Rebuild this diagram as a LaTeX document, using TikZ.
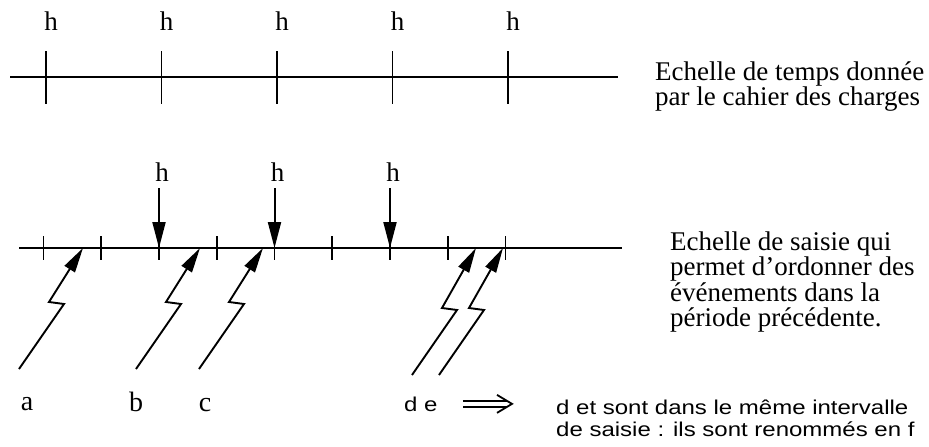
\documentclass[tikz,border=0pt]{standalone}
\usepackage{fontspec}
\setmainfont{Liberation Serif}
\setsansfont{Liberation Sans}
\newfontfamily\notefont[FakeStretch=1.2]{Liberation Sans}
\usetikzlibrary{arrows.meta}

\begin{document}
\begin{tikzpicture}[
		x=1pt, y=-1pt,
		echelle/.style={line width=2.4pt},
		graduation/.style={line width=1.9pt},
		harr/.style={line width=2pt, -{Triangle[length=26pt, width=13pt]}},
		evt/.style={line width=1.9pt, line join=miter, -{Triangle[length=25pt, width=12pt]}},
		lbl/.style={inner sep=0pt, anchor=base, font=\fontsize{27}{27}\selectfont},
		desc/.style={inner sep=0pt, anchor=base west, font=\fontsize{27}{25}\selectfont},
		remarque/.style={inner sep=0pt, anchor=base west, font=\notefont\fontsize{20}{23}\selectfont},
		implies/.style={line width=1.8pt}
	]
	\useasboundingbox (0,0) rectangle (929,447);

	% echelle du cahier des charges
	\draw[echelle] (10,77) -- (618,77);
	\foreach \k in {0,...,4} {
		\coordinate (tt\k) at (46+115.5*\k,77);
		\draw[graduation] (tt\k) ++(0,-26) -- ++(0,53);
		\node[lbl] (ht\k) at (51+115.5*\k,30) {h};
	}
	\foreach \t [count=\i] in {Echelle de temps donnée, par le cahier des charges}
		\node[desc] (cahier\i) at (655,80+25*\i-25) {\t};

	% echelle de saisie
	\draw[echelle] (19,248) -- (622,248);
	\foreach \k in {0,...,8}
		\draw[graduation] (43.5+57.75*\k,236) -- ++(0,24);
	\foreach \k in {2,4,6} {
		\coordinate (hs\k) at (43.5+57.75*\k,248);
		\node[lbl] (hb\k) at (46.5+57.75*\k,181) {h};
		\draw[harr] ([yshift=-7pt]hb\k.south -| hs\k) -- (hs\k);
	}
	\foreach \t [count=\i] in {Echelle de saisie qui, permet d'ordonner des, événements dans la, période précédente.}
		\node[desc] (saisie\i) at (670,250+25.5*\i-25.5) {\t};

	% evenements
	\foreach \n/\x/\yb in {a/83/369, b/200/369, c/263/369, d/476/375, e/503/375} {
		\coordinate (t\n) at (\x,248);
		\coordinate (s\n) at (\x-64,\yb);
		\draw[evt] (s\n) -- ++(45,-65) -- ++(-15,-2) -- (t\n);
	}
	\node[lbl, font=\fontsize{28}{28}\selectfont] (la) at (27,410) {a};
	\node[lbl, font=\fontsize{28}{28}\selectfont] (lb) at (136,411) {b};
	\node[lbl, font=\fontsize{28}{28}\selectfont] (lc) at (205,411) {c};
	\node[remarque] (de) at (404,411) {d e};
	\foreach \t [count=\i] in {d et sont dans le même intervalle, de saisie : ils sont renommés en f}
		\node[remarque] (note\i) at (556,414+22*\i-22) {\t};

	% implication d e => note
	\coordinate (imp0) at ([xshift=25pt]de.east);
	\coordinate (imp1) at ([xshift=-44pt]de.east -| note1.west);
	\draw[implies, double, double distance=4.5pt] (imp0) -- ([xshift=-5pt]imp1);
	\draw[implies, line join=miter] ([shift={(-15pt,9pt)}]imp1) -- (imp1) -- ([shift={(-15pt,-9pt)}]imp1);
\end{tikzpicture}
\end{document}
